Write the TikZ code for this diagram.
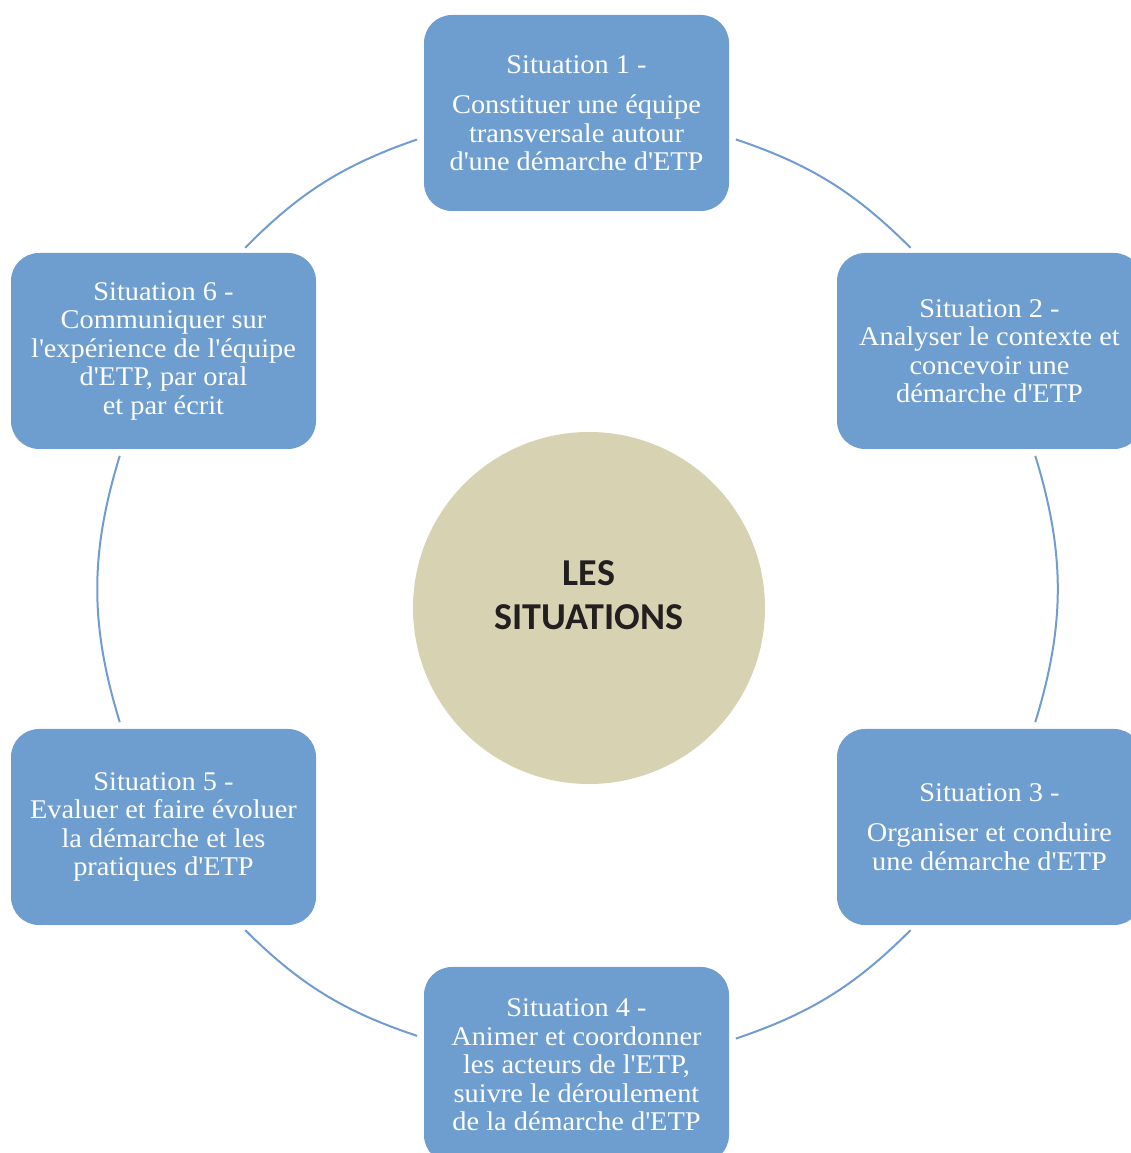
\documentclass[tikz,border=0pt]{standalone}
\usepackage{fontspec}
\setmainfont{Liberation Serif}[FakeStretch=1.05]
\newfontfamily\hubfont{Carlito}
\usetikzlibrary{positioning}
\definecolor{boxblue}{RGB}{110,158,207}
\definecolor{ringblue}{RGB}{112,156,210}
\definecolor{hubbeige}{RGB}{214,210,178}
\definecolor{hubink}{RGB}{35,31,32}
\newcommand{\sq}{\textquotesingle}
\tikzset{
    situation/.style = {rectangle, rounded corners=28pt, fill=boxblue, text=white,
        minimum width=305pt, minimum height=196pt, inner sep=0pt, align=center,
        font=\fontsize{27}{28.5}\selectfont},
    ringarc/.style = {draw=ringblue, line width=2pt, shorten <=7pt, shorten >=7pt},
    hubtext/.style = {font=\hubfont\bfseries\fontsize{38}{44.5}\selectfont, text=hubink, align=center}
}

\begin{document}
\begin{tikzpicture}[x=1pt, y=1pt, node distance=238pt and 413pt, on grid]
    \useasboundingbox (0,0) rectangle (1131,1153);
    \node[circle, fill=hubbeige, minimum size=352pt, inner sep=0pt,
          label={[hubtext, yshift=13pt]center:LES\\SITUATIONS}] (hub) at (589,545) {};

    \node[situation] (s1) at (576.5,1040) {Situation 1 -\\[12pt]Constituer une équipe\\transversale autour\\d\sq une démarche d\sq ETP};
    \node[situation] (s2) [below right=of s1] {Situation 2 -\\Analyser le contexte et\\concevoir une\\démarche d\sq ETP};
    \node[situation] (s3) [below=476pt of s2] {Situation 3 -\\[12pt]Organiser et conduire\\une démarche d\sq ETP};
    \node[situation] (s4) [below left=of s3] {Situation 4 -\\Animer et coordonner\\les acteurs de l\sq ETP,\\suivre le déroulement\\de la démarche d\sq ETP};
    \node[situation] (s5) [above left=of s4] {Situation 5 -\\Evaluer et faire évoluer\\la démarche et les\\pratiques d\sq ETP};
    \node[situation] (s6) [above=476pt of s5] {Situation 6 -\\Communiquer sur\\l\sq expérience de l\sq équipe\\d\sq ETP, par oral\\et par écrit};

    \draw[ringarc] (s1.-9.35) to[bend left=13.2] (s2.127.7);
    \draw[ringarc] (s2.-66.8) to[bend left=17.1] (s3.66.8);
    \draw[ringarc] (s3.-127.7) to[bend left=13.2] (s4.9.35);
    \draw[ringarc] (s4.170.65) to[bend left=13.2] (s5.-52.3);
    \draw[ringarc] (s5.113.2) to[bend left=17.1] (s6.-113.2);
    \draw[ringarc] (s6.52.3) to[bend left=13.2] (s1.189.35);
\end{tikzpicture}
\end{document}
